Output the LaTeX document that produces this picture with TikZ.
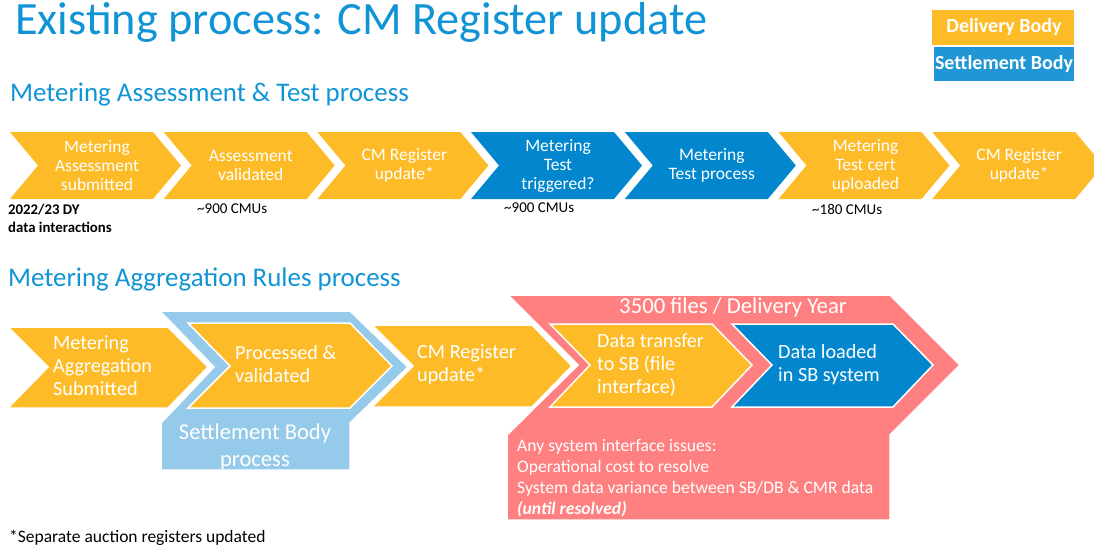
\documentclass[tikz,border=0pt]{standalone}
\usepackage{fontspec}
\setmainfont{Carlito}
\definecolor{dbY}{RGB}{253,187,39}
\definecolor{sbB}{RGB}{2,135,206}
\definecolor{ltB}{RGB}{150,202,234}
\definecolor{redS}{RGB}{255,128,128}
\definecolor{ttlB}{RGB}{16,148,214}
\definecolor{legB}{RGB}{33,150,214}
\tikzset{
  toptext/.style={text=white, align=center, inner sep=0pt, font=\fontsize{17.5}{19}\selectfont},
  bottext/.style={text=white, align=left, inner sep=0pt, anchor=west, font=\fontsize{20.2}{23}\selectfont},
  shapeline/.style={draw=white, line width=1.5pt, line join=miter},
  cmu/.style={anchor=west, inner sep=0pt, font=\fontsize{15}{17}\selectfont},
  heading/.style={anchor=west, inner sep=0pt, text=ttlB, font=\fontsize{26.9}{30}\selectfont},
  legend/.style={text=white, inner sep=0pt, font=\bfseries\fontsize{20}{22}\selectfont},
}
\newcommand\topchev[4]{%
  \fill[#3] (#2,132) -- ({#2+143},132) -- ({#2+171},165.5) -- ({#2+143},199) -- (#2,199) -- ({#2+28},165.5) -- cycle;
  \node[toptext] (#1) at ({#2+87},165.5) {#4};}
\begin{document}
\begin{tikzpicture}[x=1pt,y=-1pt]
\useasboundingbox (0,0) rectangle (1094,547);
\clip (0,0) rectangle (1094,547);
% title
\node[anchor=west, inner sep=0pt, text=ttlB, font=\fontsize{46.3}{50}\selectfont] (title) at (15,22) {Existing process: CM Register update};
% legend
\fill[dbY] (932,10) rectangle (1074,45);
\node[legend] (legDB) at (1004,27.5) {Delivery Body};
\fill[legB] (934,47) rectangle (1074,81);
\node[legend] (legSB) at (1004,64) {Settlement Body};
% heading 1
\node[heading] (h1) at (10,95) {Metering Assessment \& Test process};
% top row
\topchev{t1}{10}{dbY}{Metering\\Assessment\\submitted}
\topchev{t2}{163.7}{dbY}{Assessment\\validated}
\topchev{t3}{317.4}{dbY}{CM Register\\update*}
\topchev{t4}{471}{sbB}{Metering\\Test\\triggered?}
\topchev{t5}{624.8}{sbB}{Metering\\Test process}
\topchev{t6}{778.5}{dbY}{Metering\\Test cert\\uploaded}
\topchev{t7}{932.2}{dbY}{CM Register\\update*}
% labels under top row
\node[cmu, font=\bfseries\fontsize{14.8}{18}\selectfont, align=left] (dy) at (8,218.5) {2022/23 DY\\data interactions};
\node[cmu] (c1) at (197,209) {\textasciitilde900 CMUs};
\node[cmu] (c2) at (504,208) {\textasciitilde900 CMUs};
\node[cmu] (c3) at (812,209) {\textasciitilde180 CMUs};
% heading 2
\node[heading] (h2) at (8,279) {Metering Aggregation Rules process};
% bottom row
\fill[shapeline, fill=dbY] (8,327) -- (168,327) -- (208,367) -- (168,408) -- (8,408) -- (48,367) -- cycle;
\fill[shapeline, fill=ltB] (160,311) -- (350,311) -- (408,367) -- (350,423) -- (350,470) -- (161,470) -- (161,423) -- (214,367) -- cycle;
\fill[shapeline, fill=dbY] (188,323) -- (350,323) -- (392,366) -- (350,408) -- (188,408) -- (230,366) -- cycle;
\fill[shapeline, fill=dbY] (372,325) -- (532,325) -- (572,366) -- (532,407) -- (372,407) -- (413,366) -- cycle;
\fill[shapeline, fill=redS] (508,295) -- (890,295) -- (960,365) -- (890,435) -- (890,520) -- (507,520) -- (507,435) -- (578,365) -- cycle;
\fill[shapeline, fill=dbY] (550,324) -- (712,324) -- (752,365) -- (712,407) -- (550,407) -- (590,365) -- cycle;
\fill[shapeline, fill=sbB] (732,324) -- (893,324) -- (933,365) -- (893,407) -- (732,407) -- (772,365) -- cycle;
\node[bottext] (bA) at (53,366) {Metering\\Aggregation\\Submitted};
\node[bottext] (bB) at (235,364.5) {Processed \&\\validated};
\node[bottext] (bC) at (417,364.5) {CM Register\\update*};
\node[bottext] (bD) at (597,365) {Data transfer\\to SB (file\\interface)};
\node[bottext] (bE) at (778,365) {Data loaded\\in SB system};
\node[text=white, inner sep=0pt, align=center, font=\fontsize{22.6}{27}\selectfont] (sbp) at (255,446.5) {Settlement Body\\process};
\node[text=white, inner sep=0pt, font=\fontsize{22.7}{25}\selectfont] (files) at (733,307) {3500 files / Delivery Year};
\node[text=white, inner sep=0pt, anchor=west, align=left, font=\fontsize{17.6}{21}\selectfont] (issues) at (517,478.5) {Any system interface issues:\\Operational cost to resolve\\System data variance between SB/DB \& CMR data\\\textbf{\textit{(until resolved)}}};
% footnote
\node[anchor=west, inner sep=0pt, font=\fontsize{17.5}{19}\selectfont] (foot) at (9,538) {*Separate auction registers updated};
\end{tikzpicture}
\end{document}
